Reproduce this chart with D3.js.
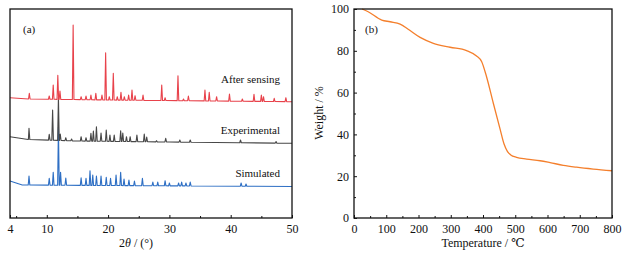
<!DOCTYPE html>
<html lang="en">
<head>
  <meta charset="UTF-8">
  <title>XRD and TGA</title>
  <script src="https://cdn.jsdelivr.net/npm/d3@7"></script>
  <style>
    body { margin: 0; background: #fff; }
    svg text { font-family: "Liberation Serif", "DejaVu Serif", serif; fill: #111; }
  </style>
</head>
<body>
  <div id="chart"></div>
  <script>
    // ---- panel (a): XRD patterns, intensity in arbitrary units ----
    // baseline knots [2theta, intensity] and peak tops [2theta, intensity]
    const sensingBase = [[4, 120.3], [7, 119], [20, 118], [50, 116.3]]
    const sensingPeaks = [[7.15, 124.7], [10.4, 122], [11.05, 133], [11.8, 142.7], [12.15, 127], [14.3, 193],
      [15.6, 121.3], [16.4, 122], [17.2, 123], [18.0, 124.7], [19.0, 123], [19.6, 165.3], [20.2, 121.3],
      [20.85, 144.7], [21.5, 121.3], [22.1, 125.7], [22.65, 121.3], [23.35, 123], [23.9, 128], [24.4, 122.3],
      [25.7, 123], [28.75, 133], [29.3, 120.3], [31.4, 142.3], [32.3, 119], [33.1, 122], [35.8, 128],
      [36.5, 125.7], [37.7, 121.3], [39.8, 124], [41.9, 119], [43.8, 123.7], [45.0, 123], [45.35, 121.3],
      [47.1, 119.7], [49.0, 120.3]]

    const expBase = [[4, 81.3], [7, 78.5], [15, 77], [30, 76], [50, 74.7]]
    const expPeaks = [[7.1, 89.7], [10.4, 83.7], [10.95, 108], [11.9, 121], [12.2, 84], [13.1, 80.3],
      [14.05, 79], [15.6, 81.3], [16.4, 80.3], [17.2, 84.7], [17.6, 87], [18.1, 91.3], [18.85, 85],
      [19.7, 88], [20.3, 83], [21.0, 83], [22.05, 87.3], [22.4, 85], [23.0, 81.3], [23.6, 81.3],
      [24.7, 83], [25.9, 84], [26.3, 81], [27.9, 77.3], [29.4, 79.7], [31.7, 78], [33.4, 78],
      [41.6, 78], [47.4, 76.5]]

    const simBase = [[4, 37], [6, 33], [20, 32.5], [50, 31.5]]
    const simPeaks = [[7.1, 42], [10.4, 39.7], [11.05, 45.7], [11.9, 91], [12.25, 45.7], [13.1, 40],
      [15.6, 40.3], [16.4, 39.7], [17.05, 47.3], [17.5, 43], [18.1, 42], [18.85, 42], [19.7, 40.7],
      [20.4, 39.7], [21.3, 43], [22.05, 45.7], [22.6, 39], [23.4, 38], [24.3, 37], [25.6, 39.7],
      [27.3, 36], [28.1, 36], [29.3, 37.3], [30.0, 35], [31.5, 35], [32.0, 36], [32.7, 35],
      [33.4, 36], [41.7, 35], [42.5, 34]]

    const xrdNames = ["After sensing", "Experimental", "Simulated"]
    const xrdColors = ["#e8424b", "#474747", "#2e6fc4"]
    const xrdTicks = [4, 10, 20, 30, 40, 50]
    const xrdMinor = [5, 15, 25, 35, 45]

    // ---- panel (b): TGA ----
    const temps = [25, 44, 86, 112, 143, 168, 205, 246, 298, 349, 380, 396, 411, 432, 453, 465, 476,
      486, 504, 535, 577, 608, 649, 690, 742, 800]
    const weights = [100, 98.7, 94.7, 93.9, 92.8, 90.3, 86.4, 83.6, 81.7, 80.1, 77.5, 74.8, 67.6, 54.9,
      42.5, 35.5, 31.8, 30.2, 29.0, 28.2, 27.4, 26.5, 25.2, 24.3, 23.4, 22.6]
    const tgaXTicks = d3.range(0, 801, 100)
    const tgaYTicks = d3.range(0, 101, 20)

    const width = 625
    const height = 257
    const serif = "Liberation Serif, DejaVu Serif, serif"

    const svg = d3.select("#chart").append("svg")
      .attr("width", width)
      .attr("height", height)

    const plotTop = 9, plotBottom = 218

    // ---------- panel a ----------
    const ax = { left: 10, right: 292 }
    const xA = d3.scaleLinear().domain([4, 50]).range([ax.left, ax.right])
    const yA = d3.scaleLinear().domain([0, 209]).range([plotBottom, plotTop])

    const buildPattern = (base, peaks) => {
      const baseAt = d3.scaleLinear().domain(base.map(d => d[0])).range(base.map(d => d[1]))
      const w = 0.13
      let pts = base.slice()
      peaks.forEach(p => {
        pts.push([p[0] - w, baseAt(p[0] - w)], p, [p[0] + w, baseAt(p[0] + w)])
      })
      return pts.sort((a, b) => a[0] - b[0])
    }

    const lineA = d3.line().x(d => xA(d[0])).y(d => yA(d[1]))
    const patterns = [
      buildPattern(sensingBase, sensingPeaks),
      buildPattern(expBase, expPeaks),
      buildPattern(simBase, simPeaks)
    ]
    // draw blue first, red last
    ;[2, 1, 0].forEach(i => {
      svg.append("path")
        .attr("d", lineA(patterns[i]))
        .attr("fill", "none")
        .attr("stroke", xrdColors[i])
        .attr("stroke-width", 1.1)
        .attr("stroke-linejoin", "round")
    })

    // curve labels
    const labelY = [83, 134, 177]
    xrdNames.forEach((n, i) => {
      svg.append("text")
        .attr("x", 280)
        .attr("y", labelY[i])
        .attr("text-anchor", "end")
        .style("font-size", "11px")
        .text(n)
    })

    svg.append("text").attr("x", 23).attr("y", 33).style("font-size", "11px").text("(a)")

    // frame a
    svg.append("rect")
      .attr("x", ax.left).attr("y", plotTop)
      .attr("width", ax.right - ax.left).attr("height", plotBottom - plotTop)
      .attr("fill", "none").attr("stroke", "#111").attr("stroke-width", 1.3)

    const xAxisA = d3.axisBottom(xA).tickValues(xrdTicks).tickSize(-3).tickPadding(6).tickFormat(d3.format("d"))
    const gxa = svg.append("g").attr("transform", `translate(0,${plotBottom})`).call(xAxisA)
    gxa.select(".domain").remove()
    gxa.selectAll("text").style("font-size", "12px").attr("dy", "0.71em").attr("y", 6)
    svg.append("g").attr("transform", `translate(0,${plotBottom})`)
      .call(d3.axisBottom(xA).tickValues(xrdMinor).tickSize(-2).tickFormat(""))
      .select(".domain").remove()

    const xTitleA = svg.append("text")
      .attr("x", 136).attr("y", 247)
      .attr("text-anchor", "middle")
      .style("font-size", "12px")
    xTitleA.append("tspan").text("2")
    xTitleA.append("tspan").style("font-style", "italic").text("θ")
    xTitleA.append("tspan").text(" / (°)")

    // ---------- panel b ----------
    const bx = { left: 354, right: 612 }
    const xB = d3.scaleLinear().domain([0, 800]).range([bx.left, bx.right])
    const yB = d3.scaleLinear().domain([0, 100]).range([plotBottom, plotTop])

    svg.append("path")
      .datum(temps.map((t, i) => [t, weights[i]]))
      .attr("d", d3.line().x(d => xB(d[0])).y(d => yB(d[1])).curve(d3.curveMonotoneX))
      .attr("fill", "none")
      .attr("stroke", "#f47f2c")
      .attr("stroke-width", 1.3)

    svg.append("rect")
      .attr("x", bx.left).attr("y", plotTop)
      .attr("width", bx.right - bx.left).attr("height", plotBottom - plotTop)
      .attr("fill", "none").attr("stroke", "#111").attr("stroke-width", 1.3)

    const gxb = svg.append("g").attr("transform", `translate(0,${plotBottom})`)
      .call(d3.axisBottom(xB).tickValues(tgaXTicks).tickSize(-3).tickPadding(6))
    gxb.select(".domain").remove()
    gxb.selectAll("text").style("font-size", "12px").attr("dy", "0.71em").attr("y", 6)
    svg.append("g").attr("transform", `translate(0,${plotBottom})`)
      .call(d3.axisBottom(xB).tickValues(d3.range(50, 800, 100)).tickSize(-2).tickFormat(""))
      .select(".domain").remove()

    const gyb = svg.append("g").attr("transform", `translate(${bx.left},0)`)
      .call(d3.axisLeft(yB).tickValues(tgaYTicks).tickSize(-3).tickPadding(6))
    gyb.select(".domain").remove()
    gyb.selectAll("text").style("font-size", "12px").attr("x", -5)
    svg.append("g").attr("transform", `translate(${bx.left},0)`)
      .call(d3.axisLeft(yB).tickValues(d3.range(10, 100, 20)).tickSize(-2).tickFormat(""))
      .select(".domain").remove()

    svg.selectAll("g").attr("font-family", serif)
    svg.selectAll(".tick line").attr("stroke", "#111")
    svg.selectAll(".tick text").attr("fill", "#111").style("font-family", serif)

    svg.append("text").attr("x", 365).attr("y", 33).style("font-size", "11px").text("(b)")

    svg.append("text")
      .attr("x", 483).attr("y", 247)
      .attr("text-anchor", "middle")
      .style("font-size", "12px")
      .text("Temperature / ℃")

    svg.append("text")
      .attr("transform", "translate(323,113) rotate(-90)")
      .attr("text-anchor", "middle")
      .style("font-size", "12px")
      .text("Weight / %")
  </script>
</body>
</html>
